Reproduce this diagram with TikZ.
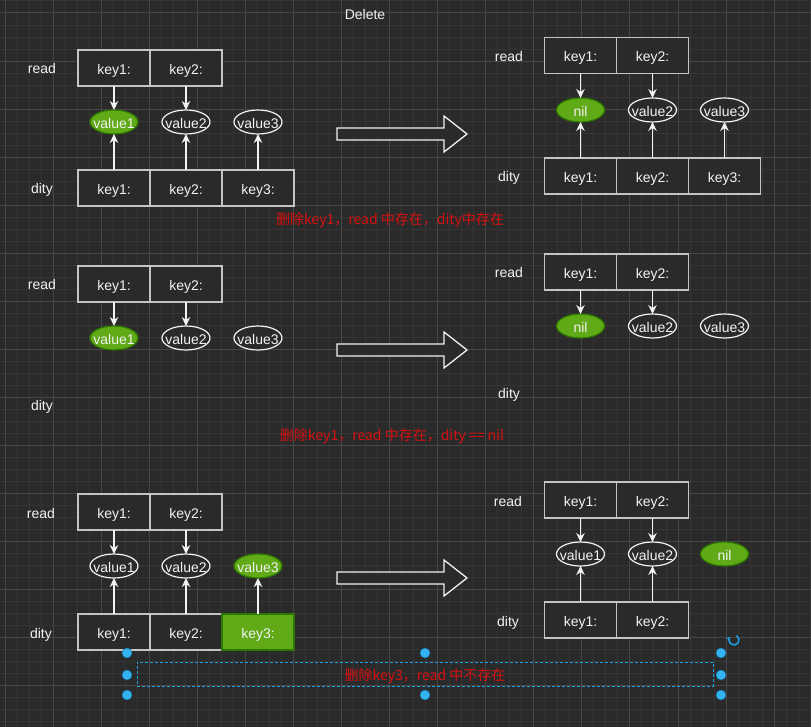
\documentclass[tikz,border=0pt]{standalone}
\usepackage{fontspec}
\setmainfont{Liberation Sans}
\newfontfamily\cjk{Noto Sans CJK SC}
\usetikzlibrary{positioning,shapes.geometric,arrows.meta}

\definecolor{bg}{HTML}{2A2A2A}
\definecolor{minorline}{HTML}{353535}
\definecolor{majorline}{HTML}{474747}
\definecolor{boxline}{HTML}{C4C4C4}
\definecolor{txt}{HTML}{F2F2F2}
\definecolor{grn}{HTML}{60A917}
\definecolor{grnline}{HTML}{2D7600}
\definecolor{notered}{HTML}{D81010}
\definecolor{selblue}{HTML}{1E9FE0}
\definecolor{gripblue}{HTML}{33B3F0}
\newcommand\lab{\fontsize{14}{17}\selectfont}

\begin{document}
\begin{tikzpicture}[x=1pt,y=-1pt,
  cell/.style={draw=boxline,fill=bg,line width=1.4pt,minimum width=72pt,minimum height=36pt,inner sep=0pt,outer sep=0pt,text=txt,font=\lab,text height=13pt,text depth=0pt},
  hitcell/.style={cell,fill=grn,draw=grnline},
  val/.style={ellipse,draw=txt,fill=bg,line width=1.2pt,minimum width=48pt,minimum height=24pt,inner xsep=-10pt,inner ysep=0pt,outer sep=0pt,text=txt,font=\lab,text height=13pt,text depth=0pt},
  hit/.style={val,fill=grn,draw=grnline},
  tag/.style={text=txt,font=\lab,inner sep=1pt,text height=13pt,text depth=0pt},
  note/.style={text=notered,font=\cjk\lab,inner sep=1pt,text height=13pt,text depth=0pt},
  link/.style={draw=txt,line width=1.2pt,-{Stealth[length=9pt,width=8.5pt,inset=3pt]}},
  fat/.style={draw=txt,fill=bg,line width=1.3pt,line join=miter},
  grip/.style={circle,fill=gripblue,draw=selblue!70!black,line width=0.5pt,minimum size=10pt,inner sep=0pt}]
\useasboundingbox (0,0) rectangle (811,727);
\fill[bg] (0,0) rectangle (811,727);
% grid
\foreach \i in {0,...,68} \draw[minorline,line width=1pt] ({-6.7+12.0125*\i},0) -- ++(0,727);
\foreach \i in {0,...,61} \draw[minorline,line width=1pt] (0,{0.99+12.0125*\i}) -- ++(811,0);
\foreach \i in {0,...,16} \draw[majorline,line width=1pt] ({5.3+48.05*\i},0) -- ++(0,727);
\foreach \i in {0,...,14} \draw[majorline,line width=1pt] (0,{13+48.05*\i}) -- ++(811,0);
%
\node[tag] (title) at (365,13.5) {Delete};
%
% read and dity both hold key1
\node[tag] (readA) at (42,67.5) {read};
\node[cell] (aR1) at (114,68) {key1:};
\node[cell,right=0pt of aR1] (aR2) {key2:};
\node[hit] (aV1) at (114,122) {value1};
\node[val] (aV2) at (186,122) {value2};
\node[val] (aV3) at (258,122) {value3};
\node[tag] (dityA) at (42,187.5) {dity};
\node[cell] (aD1) at (114,188) {key1:};
\node[cell,right=0pt of aD1] (aD2) {key2:};
\node[cell,right=0pt of aD2] (aD3) {key3:};
%
\node[tag] (readB) at (509,55) {read};
\node[cell] (bR1) at (580.5,55.5) {key1:};
\node[cell,right=0pt of bR1] (bR2) {key2:};
\node[hit] (bV1) at (580.5,110) {nil};
\node[val] (bV2) at (652.5,110) {value2};
\node[val] (bV3) at (724.5,110) {value3};
\node[tag] (dityB) at (509,175) {dity};
\node[cell] (bD1) at (580.5,176) {key1:};
\node[cell,right=0pt of bD1] (bD2) {key2:};
\node[cell,right=0pt of bD2] (bD3) {key3:};
\node[note] (noteA) at (390,218.5) {删除key1，read 中存在，dity中存在};
%
% dity is nil
\node[tag] (readC) at (42,283.5) {read};
\node[cell] (cR1) at (114,284) {key1:};
\node[cell,right=0pt of cR1] (cR2) {key2:};
\node[hit] (cV1) at (114,338) {value1};
\node[val] (cV2) at (186,338) {value2};
\node[val] (cV3) at (258,338) {value3};
\node[tag] (dityC) at (42,404) {dity};
%
\node[tag] (readD) at (509,271.5) {read};
\node[cell] (dR1) at (580.5,272) {key1:};
\node[cell,right=0pt of dR1] (dR2) {key2:};
\node[hit] (dV1) at (580.5,326) {nil};
\node[val] (dV2) at (652.5,326) {value2};
\node[val] (dV3) at (724.5,326) {value3};
\node[tag] (dityD) at (509,392) {dity};
\node[note] (noteB) at (392,434) {删除key1，read 中存在，dity == nil};
%
% key3 only in dity
\node[tag] (readE) at (41,511.5) {read};
\node[cell] (eR1) at (114,512) {key1:};
\node[cell,right=0pt of eR1] (eR2) {key2:};
\node[val] (eV1) at (114,566) {value1};
\node[val] (eV2) at (186,566) {value2};
\node[hit] (eV3) at (258,566) {value3};
\node[tag] (dityE) at (41,631.5) {dity};
\node[cell] (eD1) at (114,632) {key1:};
\node[cell,right=0pt of eD1] (eD2) {key2:};
\node[hitcell,right=0pt of eD2] (eD3) {key3:};
%
\node[tag] (readF) at (508,499.5) {read};
\node[cell] (fR1) at (580.5,500) {key1:};
\node[cell,right=0pt of fR1] (fR2) {key2:};
\node[val] (fV1) at (580.5,554) {value1};
\node[val] (fV2) at (652.5,554) {value2};
\node[hit] (fV3) at (724.5,554) {nil};
\node[tag] (dityF) at (508,619.5) {dity};
\node[cell] (fD1) at (580.5,620) {key1:};
\node[cell,right=0pt of fD1] (fD2) {key2:};
\node[note,draw=selblue,dashed,dash pattern=on 3pt off 2pt,line width=0.9pt,minimum width=576pt,minimum height=24pt] (noteC) at (425,674) {删除key3，read 中不存在};
%
% big arrows
\foreach \y in {134,350,578}
  \draw[fat] (337,\y-6) -- ++(107,0) -- ++(0,-12) -- ++(23,18) -- ++(-23,18) -- ++(0,-12) -- ++(-107,0) -- cycle;
%
\path (aR1) edge[link] (aV1);
\path (aR2) edge[link] (aV2);
\path (aD1) edge[link] (aV1);
\path (aD2) edge[link] (aV2);
\path (aD3) edge[link] (aV3);
\path (bR1) edge[link] (bV1);
\path (bR2) edge[link] (bV2);
\path (bD1) edge[link] (bV1);
\path (bD2) edge[link] (bV2);
\path (bD3) edge[link] (bV3);
%
\path (cR1) edge[link] (cV1);
\path (cR2) edge[link] (cV2);
\path (dR1) edge[link] (dV1);
\path (dR2) edge[link] (dV2);
%
\path (eR1) edge[link] (eV1);
\path (eR2) edge[link] (eV2);
\path (eD1) edge[link] (eV1);
\path (eD2) edge[link] (eV2);
\path (eD3) edge[link] (eV3);
\path (fR1) edge[link] (fV1);
\path (fR2) edge[link] (fV2);
\path (fD1) edge[link] (fV1);
\path (fD2) edge[link] (fV2);
%
% selection handles
\foreach \hx/\hy in {127/653,425/653,721/653,127/675,721/675,127/695,425/695,721/695}
  \node[grip] (grip-\hx-\hy) at (\hx,\hy) {};
\coordinate (turn) at (734,640);
\draw[selblue,line width=1.6pt,-{Stealth[length=4pt,width=5pt]}] (turn) ++(-60:5) arc[start angle=-60,end angle=220,radius=5];
\end{tikzpicture}
\end{document}
